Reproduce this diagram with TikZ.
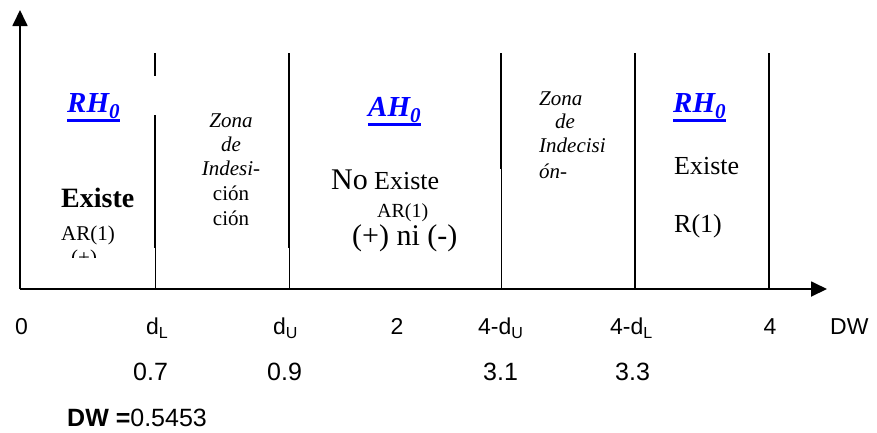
\documentclass[tikz,border=0pt]{standalone}
\usepackage{fontspec}
\setmainfont{Liberation Serif}
\newfontfamily\arialfont{Liberation Sans}
\usetikzlibrary{arrows.meta}
\definecolor{hblue}{RGB}{0,0,255}
\newcommand\fs[1]{\fontsize{#1}{#1}\selectfont}
\newcommand\hsub[1]{\raisebox{-6pt}{\fs{21}#1}}
\newcommand\asub[1]{\raisebox{-4pt}{\fs{16}#1}}
\begin{document}
\begin{tikzpicture}[x=1pt,y=-1pt,
  lbl/.style={inner sep=0pt, anchor=base west},
  clbl/.style={inner sep=0pt, anchor=base},
  thickline/.style={line width=2pt},
  thinline/.style={line width=1pt},
  axisline/.style={line width=1.8pt, -{Triangle[length=16pt,width=15pt]}},
  hyp/.style={lbl, text=hblue, font=\fs{29}\bfseries\itshape},
  uline/.style={hblue, line width=2.5pt},
  zonei/.style={clbl, font=\fs{21}\itshape},
  zoneu/.style={clbl, font=\fs{21}},
  zoner/.style={lbl, font=\fs{21}\itshape},
  axlbl/.style={lbl, font=\arialfont\fs{23}},
  axclbl/.style={clbl, font=\arialfont\fs{23}},
  vallbl/.style={lbl, font=\arialfont\fs{25}}
]
\fill[white] (0,0) rectangle (877,432);
% axes
\coordinate (O) at (20,289);
\coordinate (ytip) at (20,10);
\coordinate (xtip) at (827,289);
\draw[axisline] (O) -- (ytip);
\draw[axisline] (O) -- (xtip);
% region boundaries
\draw[thickline] (155,53) -- (155,76);
\draw[thickline] (155,115) -- (155,248);
\draw[thinline] (155,248) -- (155,289);
\draw[thickline] (289,53) -- (289,248);
\draw[thinline] (289,248) -- (289,289);
\draw[thickline] (501,53) -- (501,169);
\draw[thinline] (501,169) -- (501,289);
\draw[thickline] (635,53) -- (635,289);
\draw[thickline] (769,53) -- (769,289);
% hypotheses
\node[hyp] (rh1) at (67,112) {RH\hsub{0}};
\draw[uline] ([yshift=-8.5pt]rh1.base west) -- ([yshift=-8.5pt]rh1.base east);
\node[hyp] (ah) at (368,116) {AH\hsub{0}};
\draw[uline] ([yshift=-8.5pt]ah.base west) -- ([yshift=-8.5pt]ah.base east);
\node[hyp] (rh2) at (673,112) {RH\hsub{0}};
\draw[uline] ([yshift=-8.5pt]rh2.base west) -- ([yshift=-8.5pt]rh2.base east);
% left region
\node[lbl, font=\fs{28}\bfseries] (ex1) at (61,207) {Existe};
\node[lbl, font=\fs{21}] (ar1) at (61,240) {AR(1)};
\begin{scope}
\clip (40,0) rectangle (150,257);
\node[lbl, font=\fs{21}] (pl1) at (71,264) {(+)};
\end{scope}
% left indecision zone
\node[zonei] (z1a) at (231,127) {Zona};
\node[zonei] (z1b) at (231,151) {de};
\node[zonei] (z1c) at (231,175) {Indesi-};
\node[zoneu] (z1d) at (231,200) {ción};
\node[zoneu] (z1e) at (231,225) {ción};
% middle region
\node[lbl, font=\fs{30}] (no) at (331,189) {No};
\node[lbl, font=\fs{26}] (ex2) at (374,189) {Existe};
\node[lbl, font=\fs{20}] (ar2) at (377,217) {AR(1)};
\node[lbl, font=\fs{30}] (pm) at (352,245) {(+) ni (-)};
% right indecision zone
\node[zoner] (z2a) at (539,105) {Zona};
\node[zoner] (z2b) at (555,128) {de};
\node[zoner] (z2c) at (539,152) {Indecisi};
\node[zoner] (z2d) at (539,178) {ón-};
% right region
\node[lbl, font=\fs{26}] (ex3) at (674,174) {Existe};
\node[lbl, font=\fs{26}] (r1) at (674,232) {R(1)};
% axis labels
\node[axclbl] (t0) at (21.5,334) {0};
\node[axlbl] (tdl) at (146,334) {d\asub{L}};
\node[axlbl] (tdu) at (273,334) {d\asub{U}};
\node[axclbl] (t2) at (397,334) {2};
\node[axlbl] (t4du) at (478,334) {4-d\asub{U}};
\node[axlbl] (t4dl) at (610,334) {4-d\asub{L}};
\node[axclbl] (t4) at (770,334) {4};
\node[axlbl] (tdw) at (830,334) {DW};
\node[vallbl] (v07) at (133,380) {0.7};
\node[vallbl] (v09) at (267,380) {0.9};
\node[vallbl] (v31) at (483,380) {3.1};
\node[vallbl] (v33) at (615,380) {3.3};
\node[vallbl] (dw) at (67,426) {\textbf{DW =}0.5453};
\end{tikzpicture}
\end{document}
